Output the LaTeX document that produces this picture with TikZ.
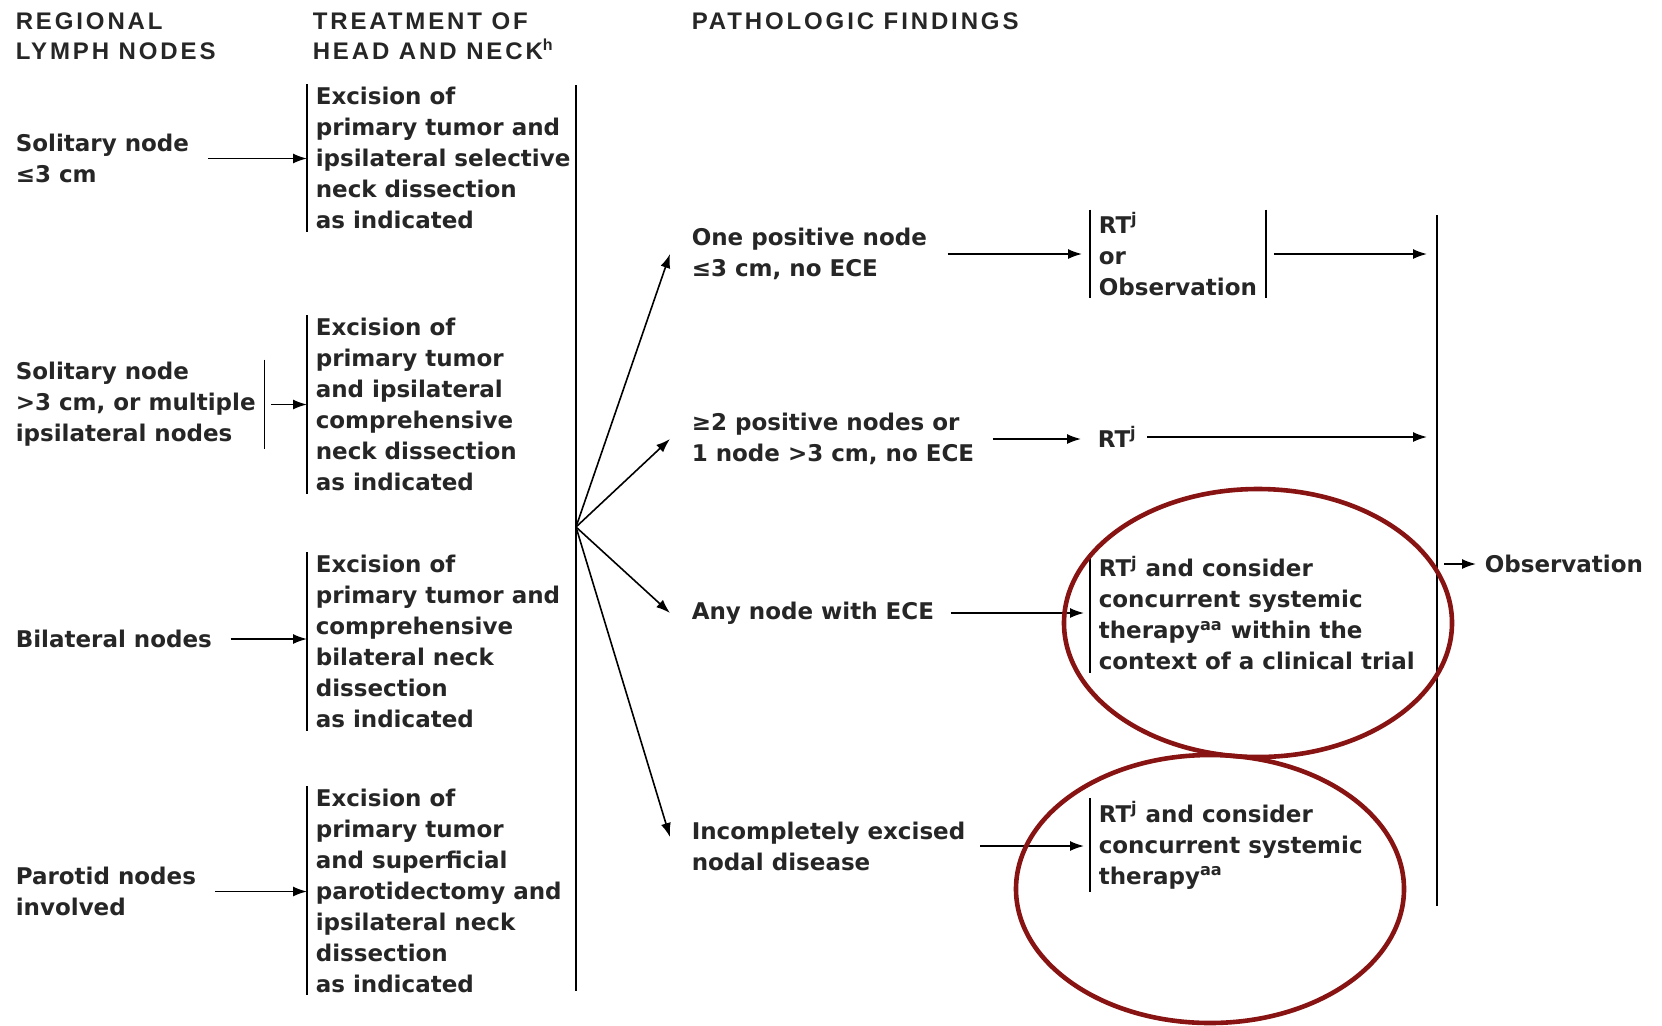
\documentclass[tikz,border=0pt]{standalone}
\usepackage{fontspec}
\setmainfont{DejaVu Sans}
\newfontfamily\headfont{Liberation Sans}[LetterSpace=12]
\usetikzlibrary{arrows.meta}
\definecolor{ringred}{RGB}{135,20,18}
\begin{document}
\begin{tikzpicture}[x=0.5pt, y=-0.5pt, line width=0.8pt,
  hdr/.style={font=\headfont\bfseries\fontsize{12}{15}\selectfont, align=left, anchor=west, inner sep=0pt, text=black!85},
  txt/.style={font=\bfseries\fontsize{11.5}{15.5}\selectfont, align=left, anchor=west, inner sep=0pt, text=black!85},
  box/.style={txt, inner xsep=4pt, inner ysep=1pt},
  arr/.style={-{Latex[length=7pt, width=5pt]}},
  ring/.style={draw=ringred, line width=2.3pt}]
\useasboundingbox (0,0) rectangle (1662,1025);
% column heads
\node[hdr] (hRegion) at (15,36) {REGIONAL\\LYMPH NODES};
\node[hdr] (hTreat) at (312,36) {TREATMENT OF\\HEAD AND NECK\textsuperscript{h}};
\node[hdr] (hPath) at (691,21) {PATHOLOGIC FINDINGS};
% regional lymph nodes
\node[txt] (nSol) at (15,158.5) {Solitary node\\≤3 cm};
\node[box] (nMulti) at (7,404.5) {Solitary node\\>3 cm, or multiple\\ipsilateral nodes};
\node[txt] (nBil) at (15,639) {Bilateral nodes};
\node[txt] (nPar) at (15,891.5) {Parotid nodes\\involved};
% treatment of head and neck
\node[box] (tSel) at (307,158) {Excision of\\primary tumor and\\ipsilateral selective\\neck dissection\\as indicated};
\node[box] (tComp) at (307,404.5) {Excision of\\primary tumor\\and ipsilateral\\comprehensive\\neck dissection\\as indicated};
\node[box] (tBil) at (307,641.5) {Excision of\\primary tumor and\\comprehensive\\bilateral neck\\dissection\\as indicated};
\node[box] (tPar) at (307,890.5) {Excision of\\primary tumor\\and superficial\\parotidectomy and\\ipsilateral neck\\dissection\\as indicated};
\draw[arr, shorten <=9pt] (nSol.east) -- (nSol.east -| tSel.west);
\draw[arr, shorten <=3.5pt] (nMulti.east) -- (nMulti.east -| tComp.west);
\draw[arr, shorten <=9pt] (nBil.east) -- (nBil.east -| tBil.west);
\draw[arr, shorten <=9pt] (nPar.east) -- (nPar.east -| tPar.west);
\draw (nMulti.north east) -- (nMulti.south east);
% pathologic findings
\coordinate (splitT) at (576,85);
\coordinate (splitB) at (576,991);
\coordinate (fan) at (576,527);
\draw (splitT) -- (splitB);
\node[txt] (pOne) at (691,254) {One positive node\\≤3 cm, no ECE};
\node[txt] (pTwo) at (691,439) {≥2 positive nodes or\\1 node >3 cm, no ECE};
\node[txt] (pEce) at (691,613) {Any node with ECE};
\node[txt] (pInc) at (691,846) {Incompletely excised\\nodal disease};
\foreach \n in {pOne,pTwo,pEce} \draw[arr] (fan) -- ([xshift=-10.5pt]\n.west);
\draw[arr] (fan) -- ([xshift=-10.5pt, yshift=4.5pt]pInc.west);
% adjuvant treatment
\node[box] (rObs) at (1090,254) {RT\textsuperscript{j}\\or\\Observation};
\node[txt] (rRt) at (1097,437) {RT\textsuperscript{j}};
\node[box] (rCon) at (1090,613) {RT\textsuperscript{j} and consider\\concurrent systemic\\therapy\textsuperscript{aa} within the\\context of a clinical trial};
\node[box] (rInc) at (1090,845) {RT\textsuperscript{j} and consider\\concurrent systemic\\therapy\textsuperscript{aa}};
\draw[arr, shorten <=10pt, shorten >=4pt] (pOne.east) -- (pOne.east -| rObs.west);
\draw[arr, shorten <=9pt, shorten >=8pt] (pTwo.east) -- (pTwo.east -| rRt.west);
\draw[arr, shorten <=8pt, shorten >=3pt] (pEce.east) -- (pEce.east -| rCon.west);
\draw[arr, shorten <=7pt, shorten >=3pt] (pInc.east) -- (pInc.east -| rInc.west);
\foreach \n in {tSel,tComp,tBil,tPar,rObs,rCon,rInc} \draw (\n.north west) -- (\n.south west);
\draw (rObs.north east) -- (rObs.south east);
% follow-up
\coordinate (obsT) at (1437,215);
\coordinate (obsB) at (1437,906);
\draw (obsT) -- (obsB);
\node[txt] (obs) at (1484,564) {Observation};
\draw[arr, shorten <=4pt, shorten >=5pt] (rObs.east) -- (rObs.east -| obsT);
\draw[arr, shorten <=5pt, shorten >=5pt] (rRt.east) -- (rRt.east -| obsT);
\draw[arr, shorten <=3.5pt, shorten >=4pt] (obs.west -| obsT) -- (obs.west);
% highlight rings
\draw[ring] (1258,623) ellipse [x radius=194, y radius=134];
\draw[ring] (1210,889) ellipse [x radius=194, y radius=134];
\end{tikzpicture}
\end{document}
